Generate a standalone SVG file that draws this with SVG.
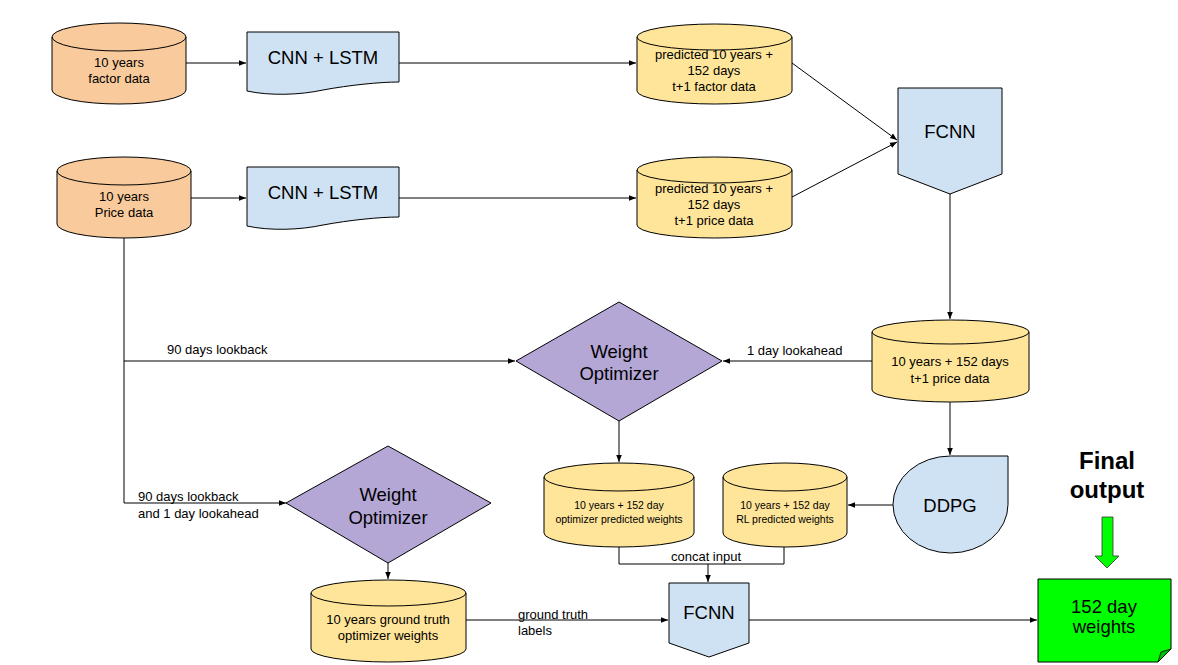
<svg xmlns="http://www.w3.org/2000/svg" width="1178" height="665" viewBox="0 0 1178 665">
<style>
text{font-family:"Liberation Sans",Arial,sans-serif;fill:#000;text-anchor:middle}
.shape{stroke:#000;stroke-width:1}
.orange{fill:#f9cb9c}
.yellow{fill:#ffe599}
.blue{fill:#cfe2f3}
.purple{fill:#b4a7d6}
.green{fill:#00ff00}
.edge{fill:none;stroke:#000;stroke-width:1}
.big{font-size:18.5px}
.mid{font-size:13px}
.sm{font-size:10.5px}
.lbl{font-size:13px;text-anchor:start}
</style>
<defs>
<marker id="arr" viewBox="0 0 10 10" refX="10" refY="5" markerWidth="7" markerHeight="7" markerUnits="userSpaceOnUse" orient="auto">
<path d="M0,1 L10,5 L0,9 Z" fill="#000"/>
</marker>
</defs>
<rect width="1178" height="665" fill="#fff"/>

<g id="connectors">
<path class="edge" d="M186,63 H246" marker-end="url(#arr)"/>
<path class="edge" d="M191,198 H246" marker-end="url(#arr)"/>
<path class="edge" d="M399,63 H636" marker-end="url(#arr)"/>
<path class="edge" d="M399,198 H636" marker-end="url(#arr)"/>
<path class="edge" d="M792,63 L897,140" marker-end="url(#arr)"/>
<path class="edge" d="M792,197 L897,142" marker-end="url(#arr)"/>
<path class="edge" d="M950,194 V319" marker-end="url(#arr)"/>
<path class="edge" d="M872,361 H723" marker-end="url(#arr)"/>
<text class="lbl" x="747" y="355">1 day lookahead</text>
<path class="edge" d="M124,238 V361 H515" marker-end="url(#arr)"/>
<text class="lbl" x="167" y="354">90 days lookback</text>
<path class="edge" d="M124,361 V503 H286" marker-end="url(#arr)"/>
<text class="lbl" x="138" y="501">90 days lookback</text>
<text class="lbl" x="138" y="518">and 1 day lookahead</text>
<path class="edge" d="M619,421 V462" marker-end="url(#arr)"/>
<path class="edge" d="M950,402 V455" marker-end="url(#arr)"/>
<path class="edge" d="M893,505 H848" marker-end="url(#arr)"/>
<path class="edge" d="M388,563 V579" marker-end="url(#arr)"/>
<path class="edge" d="M619,547 V564 H784 V547"/>
<path class="edge" d="M708,564 V582" marker-end="url(#arr)"/>
<text x="706" y="561" style="font-size:13px">concat input</text>
<path class="edge" d="M466,620 H668" marker-end="url(#arr)"/>
<text class="lbl" x="518" y="619">ground truth</text>
<text class="lbl" x="518" y="635">labels</text>
<path class="edge" d="M749,620 H1037" marker-end="url(#arr)"/>
</g>

<g id="factor-data">
<path class="shape orange" d="M52,37 A67,14 0 0 1 186,37 V90 A67,14 0 0 1 52,90 Z"/>
<path class="edge" d="M52,37 A67,14 0 0 0 186,37"/>
<text class="mid" x="119" y="67">10 years</text>
<text class="mid" x="119" y="83">factor data</text>
</g>

<g id="price-data">
<path class="shape orange" d="M57,171 A67,14 0 0 1 191,171 V224 A67,14 0 0 1 57,224 Z"/>
<path class="edge" d="M57,171 A67,14 0 0 0 191,171"/>
<text class="mid" x="124" y="201">10 years</text>
<text class="mid" x="124" y="217">Price data</text>
</g>

<g id="cnn-lstm-1">
<path class="shape blue" d="M247,32 H399 V82 C380,82 350,85 323,90 C300,95 270,96 247,91 Z"/>
<text class="big" x="323" y="64">CNN + LSTM</text>
</g>

<g id="cnn-lstm-2">
<path class="shape blue" d="M247,167 H399 V217 C380,217 350,220 323,225 C300,230 270,231 247,226 Z"/>
<text class="big" x="323" y="199">CNN + LSTM</text>
</g>

<g id="pred-factor">
<path class="shape yellow" d="M637,37 A77.5,13 0 0 1 792,37 V91 A77.5,13 0 0 1 637,91 Z"/>
<path class="edge" d="M637,37 A77.5,13 0 0 0 792,37"/>
<text class="mid" x="714" y="59">predicted 10 years +</text>
<text class="mid" x="714" y="75">152 days</text>
<text class="mid" x="714" y="91">t+1 factor data</text>
</g>

<g id="pred-price">
<path class="shape yellow" d="M637,170 A77.5,13 0 0 1 792,170 V225 A77.5,13 0 0 1 637,225 Z"/>
<path class="edge" d="M637,170 A77.5,13 0 0 0 792,170"/>
<text class="mid" x="714" y="193">predicted 10 years +</text>
<text class="mid" x="714" y="209">152 days</text>
<text class="mid" x="714" y="225">t+1 price data</text>
</g>

<g id="fcnn-1">
<path class="shape blue" d="M898,88 H1002 V174 L950,194 L898,174 Z"/>
<text class="big" x="950" y="138">FCNN</text>
</g>

<g id="price-t1">
<path class="shape yellow" d="M872,332 A78.5,12 0 0 1 1029,332 V390 A78.5,12 0 0 1 872,390 Z"/>
<path class="edge" d="M872,332 A78.5,12 0 0 0 1029,332"/>
<text class="mid" x="950" y="366">10 years + 152 days</text>
<text class="mid" x="950" y="383">t+1 price data</text>
</g>

<g id="weight-optimizer-1">
<path class="shape purple" d="M516,361 L619,302 L722,361 L619,421 Z"/>
<text class="big" x="619" y="358">Weight</text>
<text class="big" x="619" y="380">Optimizer</text>
</g>

<g id="weight-optimizer-2">
<path class="shape purple" d="M286,503 L388,446 L491,503 L388,563 Z"/>
<text class="big" x="388" y="501">Weight</text>
<text class="big" x="388" y="524">Optimizer</text>
</g>

<g id="opt-pred-weights">
<path class="shape yellow" d="M544,477 A75,14 0 0 1 694,477 V533 A75,14 0 0 1 544,533 Z"/>
<path class="edge" d="M544,477 A75,14 0 0 0 694,477"/>
<text class="sm" x="619" y="509">10 years + 152 day</text>
<text class="sm" x="619" y="523">optimizer predicted weights</text>
</g>

<g id="rl-pred-weights">
<path class="shape yellow" d="M723,477 A62,14 0 0 1 847,477 V533 A62,14 0 0 1 723,533 Z"/>
<path class="edge" d="M723,477 A62,14 0 0 0 847,477"/>
<text class="sm" x="785" y="509">10 years + 152 day</text>
<text class="sm" x="785" y="523">RL predicted weights</text>
</g>

<g id="ddpg">
<path class="shape blue" d="M950.5,456 H1008 V504.5 A57.5,48.5 0 1 1 950.5,456 Z"/>
<text class="big" x="950" y="512">DDPG</text>
</g>

<g id="ground-truth">
<path class="shape yellow" d="M311,593 A77.5,13 0 0 1 466,593 V649 A77.5,13 0 0 1 311,649 Z"/>
<path class="edge" d="M311,593 A77.5,13 0 0 0 466,593"/>
<text class="mid" x="388" y="624">10 years ground truth</text>
<text class="mid" x="388" y="640">optimizer weights</text>
</g>

<g id="fcnn-2">
<path class="shape blue" d="M669,583 H749 V643 L709,657 L669,643 Z"/>
<text class="big" x="709" y="619">FCNN</text>
</g>

<g id="final-output">
<text x="1107" y="469" style="font-size:24px;font-weight:bold">Final</text>
<text x="1107" y="498" style="font-size:24px;font-weight:bold">output</text>
<path d="M1102,517 H1113 V556 H1119 L1107,568 L1095,556 H1102 Z" fill="#00ff00" stroke="#333" stroke-width="0.8"/>
</g>

<g id="weights-152">
<path class="shape green" d="M1038,579 H1171 V649 L1158,662 H1038 Z"/>
<path d="M1158,662 L1161,652 L1171,649 Z" fill="#00c000" stroke="#000" stroke-width="0.8"/>
<text class="big" x="1104" y="613">152 day</text>
<text class="big" x="1104" y="633">weights</text>
</g>
</svg>
